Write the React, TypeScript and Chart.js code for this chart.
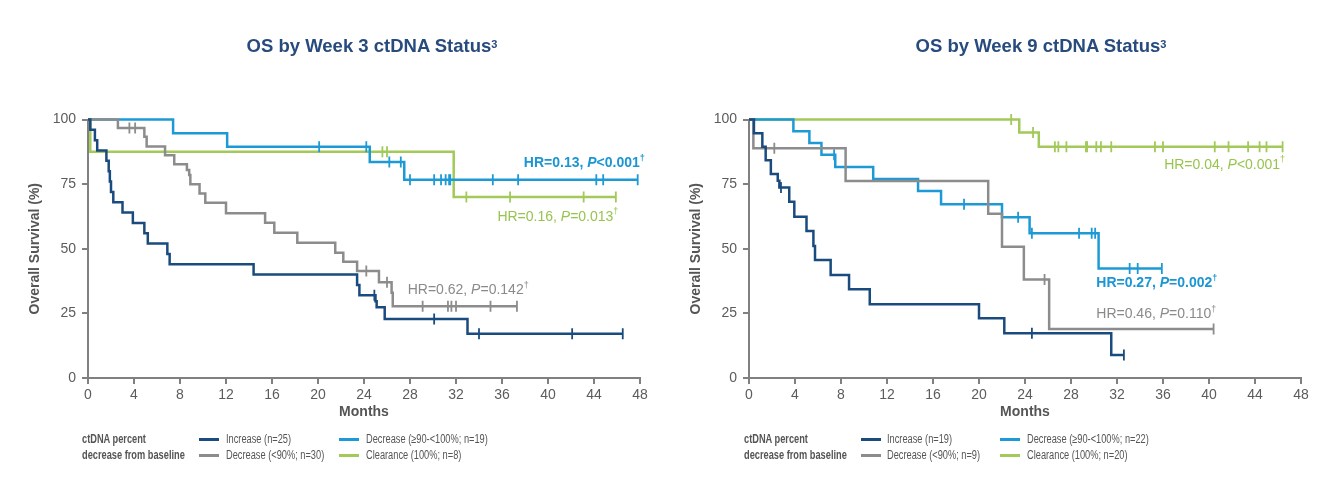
import React, { useEffect, useRef } from 'react';
import { Chart, registerables } from 'chart.js';

Chart.register(...registerables);

// ---------- axis ticks ----------
const MONTH_MIN = 0;
const MONTH_MAX = 48;
const MONTH_STEP = 4;
const SURV_MIN = 0;
const SURV_MAX = 100;
const SURV_STEP = 25;

// ---------- Week 3 (left) ----------
const w3Title = 'OS by Week 3 ctDNA Status';
const w3Labels = ['Increase (n=25)', 'Decrease (<90%; n=30)', 'Decrease (≥90-<100%; n=19)', 'Clearance (100%; n=8)'];

const w3IncreaseTimes = [0.2, 0.6, 0.8, 1.6, 1.8, 1.9, 2.0, 2.2, 3.0, 3.9, 4.9, 5.2, 6.9, 7.1, 14.4, 23.4, 23.6, 25.0, 25.1, 25.8, 33.0];
const w3IncreaseSurv = [96, 92, 88, 84, 80, 76, 72, 68, 64, 60, 56, 52, 48, 44, 40, 36, 32, 29.7, 27.4, 22.8, 17.1];
const w3IncreaseCensor = [24.9, 30.1, 34.0, 42.1, 46.5];

const w3DecLowTimes = [2.6, 4.9, 5.1, 6.7, 7.5, 8.6, 8.8, 8.9, 9.7, 10.2, 12.0, 15.4, 16.2, 18.2, 21.5, 22.2, 23.4, 25.3, 26.4, 26.5];
const w3DecLowSurv = [96.7, 93.3, 89.6, 86.2, 82.7, 80.5, 78.5, 75.0, 71.4, 67.8, 63.7, 60.1, 56.2, 52.3, 48.5, 45.0, 41.4, 37.0, 33.0, 27.8];
const w3DecLowCensor = [3.6, 4.1, 24.2, 26.0, 29.1, 31.3, 31.6, 32.0, 35.0, 37.3];

const w3DecHighTimes = [7.4, 12.1, 24.5, 27.5];
const w3DecHighSurv = [94.7, 89.5, 83.6, 76.7];
const w3DecHighCensor = [20.1, 24.2, 26.2, 27.2, 28.0, 30.1, 30.7, 31.1, 31.4, 31.5, 35.2, 37.4, 44.2, 44.8, 47.8];

const w3ClearTimes = [0.2, 31.8];
const w3ClearSurv = [87.5, 70.0];
const w3ClearCensor = [25.6, 26.0, 32.9, 36.7, 43.1, 45.9];

const w3HrTexts = ['HR=0.13, ', 'HR=0.16, ', 'HR=0.62, '];
const w3PTexts = ['<0.001', '=0.013', '=0.142'];

// ---------- Week 9 (right) ----------
const w9Title = 'OS by Week 9 ctDNA Status';
const w9Labels = ['Increase (n=19)', 'Decrease (<90%; n=9)', 'Decrease (≥90-<100%; n=22)', 'Clearance (100%; n=20)'];

const w9IncreaseTimes = [0.43, 1.16, 1.45, 1.9, 2.5, 2.64, 3.5, 3.94, 5.0, 5.6, 5.74, 7.1, 8.7, 10.5, 20.0, 22.2, 31.5];
const w9IncreaseSurv = [94.7, 89.5, 84.2, 78.9, 76.3, 73.7, 68.2, 62.4, 56.9, 51.1, 45.6, 39.8, 34.3, 28.5, 23.1, 17.3, 8.9];
const w9IncreaseCensor = [2.78, 24.6, 32.6];

const w9DecLowTimes = [0.38, 8.4, 20.8, 22.0, 23.9, 26.1];
const w9DecLowSurv = [88.9, 76.2, 63.5, 50.8, 38.1, 19.0];
const w9DecLowCensor = [2.2, 25.7, 40.4];

const w9DecHighTimes = [3.86, 5.25, 6.3, 7.5, 10.8, 14.7, 16.7, 22.0, 24.4, 30.4];
const w9DecHighSurv = [95.5, 90.9, 86.4, 81.6, 77.0, 72.3, 67.2, 62.2, 56.0, 42.4];
const w9DecHighCensor = [7.4, 18.7, 23.4, 24.6, 28.7, 29.8, 30.1, 33.1, 33.8, 35.9];

const w9ClearTimes = [23.5, 25.2];
const w9ClearSurv = [95.0, 89.5];
const w9ClearCensor = [22.8, 24.7, 26.6, 26.9, 27.6, 29.3, 29.4, 30.2, 30.6, 31.5, 35.3, 36.0, 40.5, 41.7, 43.4, 44.4, 45.0, 46.4];

const w9HrTexts = ['HR=0.04, ', 'HR=0.27, ', 'HR=0.46, '];
const w9PTexts = ['<0.001', '=0.002', '=0.110'];

// ---------- styling ----------
const COLORS = ['#1a4b7e', '#8c8c8c', '#1d9ad6', '#a2c95a'];
const TEXT_COLORS = { green: '#98c44e', blue: '#1b96d3', gray: '#8a8a8a' };
const AXIS_COLOR = '#808080';
const TICK_COLOR = '#5c5c5c';
const TITLE_COLOR = '#284b7d';
const FONT = '"Liberation Sans", Arial, Helvetica, sans-serif';

type Curve = { times: number[]; surv: number[]; censor: number[] };

const w3Curves: Curve[] = [
  { times: w3IncreaseTimes, surv: w3IncreaseSurv, censor: w3IncreaseCensor },
  { times: w3DecLowTimes, surv: w3DecLowSurv, censor: w3DecLowCensor },
  { times: w3DecHighTimes, surv: w3DecHighSurv, censor: w3DecHighCensor },
  { times: w3ClearTimes, surv: w3ClearSurv, censor: w3ClearCensor },
];
const w9Curves: Curve[] = [
  { times: w9IncreaseTimes, surv: w9IncreaseSurv, censor: w9IncreaseCensor },
  { times: w9DecLowTimes, surv: w9DecLowSurv, censor: w9DecLowCensor },
  { times: w9DecHighTimes, surv: w9DecHighSurv, censor: w9DecHighCensor },
  { times: w9ClearTimes, surv: w9ClearSurv, censor: w9ClearCensor },
];

type Note = { hr: string; p: string; color: string; bold: boolean; x: number; y: number };

const w3Notes: Note[] = [
  { hr: w3HrTexts[0], p: w3PTexts[0], color: TEXT_COLORS.blue, bold: true, x: 37.9, y: 83.0 },
  { hr: w3HrTexts[1], p: w3PTexts[1], color: TEXT_COLORS.green, bold: false, x: 35.6, y: 62.4 },
  { hr: w3HrTexts[2], p: w3PTexts[2], color: TEXT_COLORS.gray, bold: false, x: 27.8, y: 34.0 },
];
const w9Notes: Note[] = [
  { hr: w9HrTexts[0], p: w9PTexts[0], color: TEXT_COLORS.green, bold: false, x: 36.1, y: 82.4 },
  { hr: w9HrTexts[1], p: w9PTexts[1], color: TEXT_COLORS.blue, bold: true, x: 30.2, y: 36.6 },
  { hr: w9HrTexts[2], p: w9PTexts[2], color: TEXT_COLORS.gray, bold: false, x: 30.2, y: 24.6 },
];

function kmPoints(c: Curve) {
  const end = Math.max(c.times[c.times.length - 1], ...c.censor);
  const pts = [{ x: 0, y: 100 }];
  c.times.forEach((t, i) => pts.push({ x: t, y: c.surv[i] }));
  pts.push({ x: end, y: c.surv[c.surv.length - 1] });
  return pts;
}

function levelAt(c: Curve, t: number) {
  let v = 100;
  c.times.forEach((tt, i) => {
    if (tt <= t) v = c.surv[i];
  });
  return v;
}

const kmTextPlugin = {
  id: 'kmText',
  afterDraw(chart: any, _args: any, opts: any) {
    const { ctx, chartArea, scales } = chart;
    const xs = scales.x;
    const ys = scales.y;
    ctx.save();
    ctx.fillStyle = '#555555';
    ctx.font = `bold 14px ${FONT}`;
    ctx.textAlign = 'center';
    ctx.textBaseline = 'middle';
    ctx.fillText('Months', (chartArea.left + chartArea.right) / 2, chartArea.bottom + 34);
    ctx.save();
    ctx.translate(chartArea.left - 53, (chartArea.top + chartArea.bottom) / 2);
    ctx.rotate(-Math.PI / 2);
    ctx.fillText('Overall Survival (%)', 0, 0);
    ctx.restore();

    ctx.textAlign = 'left';
    (opts.notes as Note[]).forEach((n) => {
      const w = n.bold ? 'bold' : 'normal';
      const segs = [
        { t: n.hr, f: `${w} 14px ${FONT}`, dy: 0 },
        { t: 'P', f: `italic ${w} 14px ${FONT}`, dy: 0 },
        { t: n.p, f: `${w} 14px ${FONT}`, dy: 0 },
        { t: '†', f: `${w} 9px ${FONT}`, dy: -5 },
      ];
      let cx = xs.getPixelForValue(n.x);
      const cy = ys.getPixelForValue(n.y);
      ctx.fillStyle = n.color;
      segs.forEach((s) => {
        ctx.font = s.f;
        ctx.fillText(s.t, cx, cy + s.dy);
        cx += ctx.measureText(s.t).width;
      });
    });
    ctx.restore();
  },
};

function Panel(props: {
  left: number;
  width: number;
  axisWidth: number;
  padRight: number;
  title: string;
  titleX: number;
  curves: Curve[];
  labels: string[];
  notes: Note[];
  legendX: number[];
}) {
  const ref = useRef<HTMLCanvasElement>(null);
  useEffect(() => {
    if (!ref.current) return;
    const datasets: any[] = [];
    props.curves.forEach((c, i) => {
      datasets.push({
        label: props.labels[i],
        data: kmPoints(c),
        borderColor: COLORS[i],
        backgroundColor: COLORS[i],
        borderWidth: 2.5,
        stepped: 'before',
        pointRadius: 0,
        fill: false,
        clip: 8,
        order: i,
      });
      datasets.push({
        label: props.labels[i] + ' censored',
        data: c.censor.map((t) => ({ x: t, y: levelAt(c, t) })),
        showLine: false,
        borderColor: COLORS[i],
        backgroundColor: COLORS[i],
        pointStyle: 'line',
        rotation: 90,
        pointRadius: 5.5,
        pointBorderWidth: 1.8,
        clip: 8,
        order: i,
      });
    });
    const chart = new Chart(ref.current, {
      type: 'line',
      data: { datasets },
      plugins: [kmTextPlugin],
      options: {
        animation: false,
        responsive: false,
        layout: { padding: { left: 0, right: props.padRight, top: 119.5, bottom: 0 } },
        plugins: {
          legend: { display: false },
          tooltip: { enabled: false },
          kmText: { notes: props.notes },
        } as any,
        scales: {
          x: {
            type: 'linear',
            min: MONTH_MIN,
            max: MONTH_MAX,
            afterFit: (s: any) => {
              s.height = 122;
            },
            ticks: { stepSize: MONTH_STEP, color: TICK_COLOR, font: { size: 14, family: FONT }, padding: 3 },
            grid: { drawOnChartArea: false, drawTicks: true, tickLength: 6, color: AXIS_COLOR, lineWidth: 2 },
            border: { display: true, color: AXIS_COLOR, width: 2 },
          },
          y: {
            type: 'linear',
            min: SURV_MIN,
            max: SURV_MAX,
            afterFit: (s: any) => {
              s.width = props.axisWidth;
            },
            ticks: { stepSize: SURV_STEP, color: TICK_COLOR, font: { size: 14, family: FONT }, padding: 6 },
            grid: { drawOnChartArea: false, drawTicks: true, tickLength: 6, color: AXIS_COLOR, lineWidth: 2 },
            border: { display: true, color: AXIS_COLOR, width: 2 },
          },
        },
      } as any,
    });
    return () => chart.destroy();
  }, []);

  const legendText: React.CSSProperties = {
    position: 'absolute',
    whiteSpace: 'nowrap',
    fontFamily: FONT,
    fontSize: 12.5,
    lineHeight: '14px',
    color: '#555555',
    transform: 'scaleX(0.74)',
    transformOrigin: 'left center',
  };
  const rowY = [432, 448];
  const line = (x: number, y: number, color: string) => (
    <div style={{ position: 'absolute', left: x, top: y + 6, width: 20, height: 2.5, background: color }} />
  );
  const [lx, c1Line, c1Text, c2Line, c2Text] = props.legendX;

  return (
    <div style={{ position: 'absolute', left: props.left, top: 0, width: props.width, height: 500 }}>
      <canvas ref={ref} width={props.width} height={500} style={{ display: 'block' }} />
      <div
        style={{
          position: 'absolute',
          left: props.titleX,
          top: 35,
          transform: 'translateX(-50%)',
          whiteSpace: 'nowrap',
          fontFamily: FONT,
          fontWeight: 'bold',
          fontSize: 18.5,
          lineHeight: '22px',
          color: TITLE_COLOR,
        }}
      >
        {props.title}
        <sup style={{ fontSize: 11, verticalAlign: 'top', position: 'relative', top: -2 }}>3</sup>
      </div>
      <div style={{ ...legendText, left: lx, top: rowY[0], fontWeight: 'bold' }}>ctDNA percent</div>
      <div style={{ ...legendText, left: lx, top: rowY[1], fontWeight: 'bold' }}>decrease from baseline</div>
      {line(c1Line, rowY[0], COLORS[0])}
      <div style={{ ...legendText, left: c1Text, top: rowY[0] }}>{props.labels[0]}</div>
      {line(c1Line, rowY[1], COLORS[1])}
      <div style={{ ...legendText, left: c1Text, top: rowY[1] }}>{props.labels[1]}</div>
      {line(c2Line, rowY[0], COLORS[2])}
      <div style={{ ...legendText, left: c2Text, top: rowY[0] }}>{props.labels[2]}</div>
      {line(c2Line, rowY[1], COLORS[3])}
      <div style={{ ...legendText, left: c2Text, top: rowY[1] }}>{props.labels[3]}</div>
    </div>
  );
}

export default function App() {
  return (
    <div style={{ position: 'absolute', left: 0, top: 0, width: 1335, height: 500, background: '#ffffff', overflow: 'hidden' }}>
      <Panel
        left={0}
        width={667}
        axisWidth={88}
        padRight={27}
        title={w3Title}
        titleX={372}
        curves={w3Curves}
        labels={w3Labels}
        notes={w3Notes}
        legendX={[82, 199, 226, 339, 366]}
      />
      <Panel
        left={667}
        width={668}
        axisWidth={82}
        padRight={34}
        title={w9Title}
        titleX={374}
        curves={w9Curves}
        labels={w9Labels}
        notes={w9Notes}
        legendX={[77, 194, 220, 333, 360]}
      />
    </div>
  );
}
